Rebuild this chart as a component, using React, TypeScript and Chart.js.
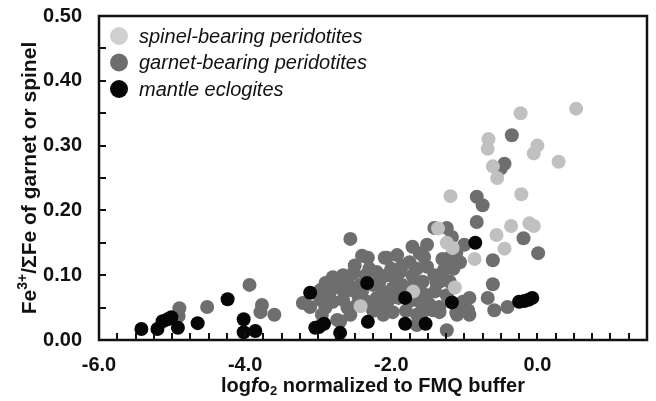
import React, { useEffect, useRef } from "react";
import { Chart, registerables } from "chart.js";

Chart.register(...registerables);

const seriesLabels = ["spinel-bearing peridotites", "garnet-bearing peridotites", "mantle eclogites"];
const seriesColors = ["#c0c0c0", "#6e6e6e", "#060606"];

const spinelPoints: [number, number][] = [
  [-0.23, 0.35], [0.53, 0.357], [-0.67, 0.31], [-0.68, 0.295], [0.0, 0.3], [-0.05, 0.288],
  [0.29, 0.275], [-0.61, 0.268], [-0.55, 0.25], [-1.19, 0.222], [-0.22, 0.225], [-1.36, 0.172],
  [-1.24, 0.15], [-1.16, 0.142], [-0.86, 0.125], [-0.56, 0.162], [-0.36, 0.176], [-0.45, 0.141],
  [-0.11, 0.18], [-0.05, 0.176], [-1.13, 0.081], [-1.7, 0.075], [-2.42, 0.052],
];

const garnetPoints: [number, number][] = [
  [-4.9, 0.049], [-4.91, 0.037], [-4.52, 0.051], [-3.94, 0.085], [-3.77, 0.054], [-3.79, 0.043],
  [-3.6, 0.039], [-3.21, 0.057], [-3.11, 0.051], [-2.95, 0.039], [-2.97, 0.077], [-2.84, 0.074],
  [-2.7, 0.08], [-2.56, 0.077], [-2.43, 0.085], [-2.8, 0.097], [-2.66, 0.1], [-2.52, 0.103],
  [-2.56, 0.156], [-2.4, 0.13], [-2.32, 0.127], [-2.74, 0.031], [-2.56, 0.039], [-2.47, 0.054],
  [-2.33, 0.059], [-2.2, 0.065], [-2.11, 0.074], [-2.16, 0.09], [-2.2, 0.105], [-2.09, 0.127],
  [-2.8, 0.059], [-2.66, 0.062], [-2.97, 0.062], [-2.7, 0.029], [-1.41, 0.173], [-1.24, 0.173],
  [-1.17, 0.159], [-1.51, 0.147], [-1.61, 0.134], [-1.11, 0.134], [-1.06, 0.12], [-1.2, 0.127],
  [-1.0, 0.147], [-1.71, 0.144], [-2.06, 0.127], [-1.92, 0.131], [-1.75, 0.12], [-1.51, 0.113],
  [-1.41, 0.1], [-1.34, 0.09], [-2.06, 0.1], [-1.88, 0.105], [-1.71, 0.1], [-1.57, 0.09],
  [-1.98, 0.08], [-1.51, 0.069], [-1.47, 0.054], [-1.61, 0.059], [-1.65, 0.039], [-1.43, 0.046],
  [-1.34, 0.043], [-1.11, 0.042], [-1.02, 0.059], [-0.93, 0.065], [-0.95, 0.046], [-1.24, 0.069],
  [-1.24, 0.015], [-1.65, 0.023], [-2.06, 0.054], [-2.11, 0.039], [-1.98, 0.043], [-1.38, 0.088],
  [-0.83, 0.221], [-0.75, 0.208], [-0.83, 0.182], [-0.35, 0.316], [-0.45, 0.272], [-0.5, 0.265],
  [-0.19, 0.157], [0.01, 0.134], [-0.61, 0.123], [-0.61, 0.086], [-0.68, 0.065], [-0.59, 0.046],
  [-0.41, 0.051], [-0.93, 0.039], [-1.1, 0.039], [-1.34, 0.051], [-1.85, 0.085], [-1.8, 0.045],
  [-2.25, 0.045], [-1.9, 0.065], [-2.6, 0.09], [-2.35, 0.1], [-2.0, 0.11], [-1.8, 0.075],
  [-2.9, 0.088], [-2.45, 0.068], [-1.3, 0.125], [-1.55, 0.128], [-1.28, 0.108],
  [-2.9, 0.05], [-2.6, 0.05], [-2.4, 0.075], [-2.25, 0.085], [-1.95, 0.095], [-1.7, 0.085],
  [-1.6, 0.075], [-1.75, 0.06], [-1.4, 0.075], [-2.0, 0.065], [-2.3, 0.11], [-1.85, 0.115],
  [-1.65, 0.11], [-2.5, 0.115], [-2.75, 0.085], [-2.15, 0.055], [-1.55, 0.045], [-1.2, 0.09],
  [-1.15, 0.11],
];

const eclogitePoints: [number, number][] = [
  [-5.42, 0.017], [-5.2, 0.017], [-5.13, 0.029], [-5.06, 0.032], [-5.01, 0.035], [-4.92, 0.019],
  [-4.65, 0.026], [-4.24, 0.063], [-4.02, 0.032], [-4.02, 0.012], [-3.86, 0.014], [-3.11, 0.073],
  [-3.04, 0.019], [-2.99, 0.02], [-2.92, 0.025], [-2.7, 0.011], [-2.33, 0.088], [-2.32, 0.028],
  [-1.81, 0.065], [-1.81, 0.025], [-1.53, 0.025], [-1.17, 0.058], [-0.85, 0.15], [-0.25, 0.059],
  [-0.18, 0.06], [-0.12, 0.062], [-0.07, 0.065],
];

const xTickValues = [-6, -4, -2, 0];
const xRange = [-6, 1.5];
const yRange = [0, 0.5];
const xMinorStep = 0.25;
const yMinorStep = 0.05;

const FONT = "'Liberation Sans', Arial, sans-serif";

const decorPlugin = {
  id: "decor",
  afterDraw(chart: any) {
    const { ctx, chartArea } = chart;
    const { left, right, top, bottom } = chartArea;
    ctx.save();
    ctx.fillStyle = "#111";
    const nx = Math.round((xRange[1] - xRange[0]) / xMinorStep);
    for (let i = 1; i < nx; i++) {
      const px = Math.round(left + (i / nx) * (right - left));
      ctx.fillRect(px - 1, bottom - 7, 2, 8);
    }
    const ny = Math.round((yRange[1] - yRange[0]) / yMinorStep);
    for (let i = 1; i < ny; i++) {
      const py = Math.round(bottom - (i / ny) * (bottom - top));
      ctx.fillRect(left - 1, py - 1, 8, 2);
    }
    ctx.strokeStyle = "#111";
    ctx.lineWidth = 2.5;
    ctx.strokeRect(left, top, right - left, bottom - top);

    ctx.textBaseline = "middle";
    ctx.textAlign = "left";
    chart.data.datasets.forEach((ds: any, i: number) => {
      const cy = top + 20 + i * 26.5;
      ctx.fillStyle = i === 0 ? "#d0d0d0" : ds.backgroundColor;
      ctx.beginPath();
      ctx.arc(left + 20, cy, 9, 0, Math.PI * 2);
      ctx.fill();
      ctx.fillStyle = "#111";
      ctx.font = `italic 20px ${FONT}`;
      ctx.fillText(ds.label, left + 40, cy + 1);
    });

    const xParts = [
      { t: "log", f: `bold 20px ${FONT}`, dy: 0 },
      { t: "f", f: `italic bold 20px ${FONT}`, dy: 0 },
      { t: "o", f: `bold 20px ${FONT}`, dy: 0 },
      { t: "2", f: `bold 13px ${FONT}`, dy: 5 },
      { t: " normalized to FMQ buffer", f: `bold 20px ${FONT}`, dy: 0 },
    ];
    drawParts(ctx, xParts, (left + right) / 2, bottom + 46, 0);

    const yParts = [
      { t: "Fe", f: `bold 21px ${FONT}`, dy: 0 },
      { t: "3+", f: `bold 14px ${FONT}`, dy: -7 },
      { t: "/\u03A3Fe of garnet or spinel", f: `bold 21px ${FONT}`, dy: 0 },
    ];
    drawParts(ctx, yParts, 30, (top + bottom) / 2, -Math.PI / 2);
    ctx.restore();
  },
};

function drawParts(ctx: any, parts: any[], cx: number, cy: number, rot: number) {
  ctx.save();
  ctx.translate(cx, cy);
  ctx.rotate(rot);
  ctx.fillStyle = "#111";
  ctx.textBaseline = "middle";
  ctx.textAlign = "left";
  let total = 0;
  const widths = parts.map((p) => {
    ctx.font = p.f;
    const w = ctx.measureText(p.t).width;
    total += w;
    return w;
  });
  let x = -total / 2;
  parts.forEach((p, i) => {
    ctx.font = p.f;
    ctx.fillText(p.t, x, p.dy);
    x += widths[i];
  });
  ctx.restore();
}

export default function App() {
  const ref = useRef<HTMLCanvasElement | null>(null);
  useEffect(() => {
    document.body.style.margin = "0";
    const canvas = ref.current;
    if (!canvas) return;
    const toXY = (arr: [number, number][]) => arr.map(([x, y]) => ({ x, y }));
    const chart = new Chart(canvas, {
      type: "scatter",
      data: {
        datasets: [
          { label: seriesLabels[0], data: toXY(spinelPoints), backgroundColor: seriesColors[0], order: 1 },
          { label: seriesLabels[1], data: toXY(garnetPoints), backgroundColor: seriesColors[1], order: 2 },
          { label: seriesLabels[2], data: toXY(eclogitePoints), backgroundColor: seriesColors[2], order: 0 },
        ].map((d) => ({ ...d, pointRadius: 7, borderWidth: 0, pointHoverRadius: 7 })),
      },
      options: {
        animation: false,
        responsive: false,
        maintainAspectRatio: false,
        layout: { padding: { top: 16, right: 9, left: 0, bottom: 0 } },
        plugins: { legend: { display: false }, tooltip: { enabled: false } },
        scales: {
          x: {
            type: "linear",
            min: xRange[0],
            max: xRange[1],
            grid: { display: false },
            border: { display: false },
            afterBuildTicks: (s: any) => {
              s.ticks = xTickValues.map((v) => ({ value: v }));
            },
            afterFit: (s: any) => {
              s.height = 61;
              s.paddingLeft = 0;
              s.paddingRight = 0;
            },
            ticks: {
              padding: 5,
              color: "#111",
              font: { family: FONT, size: 20, weight: "bold" },
              callback: (v: any) => Number(v).toFixed(1),
            },
          },
          y: {
            type: "linear",
            min: yRange[0],
            max: yRange[1],
            grid: { display: false },
            border: { display: false },
            afterFit: (s: any) => {
              s.width = 99;
              s.paddingTop = 0;
              s.paddingBottom = 0;
            },
            ticks: {
              stepSize: 0.1,
              padding: 9,
              color: "#111",
              font: { family: FONT, size: 20, weight: "bold" },
              callback: (v: any) => Number(v).toFixed(2),
            },
          },
        },
      },
      plugins: [decorPlugin],
    });
    return () => chart.destroy();
  }, []);
  return (
    <div style={{ width: 656, height: 401 }}>
      <canvas ref={ref} width={656} height={401} style={{ display: "block" }} />
    </div>
  );
}
